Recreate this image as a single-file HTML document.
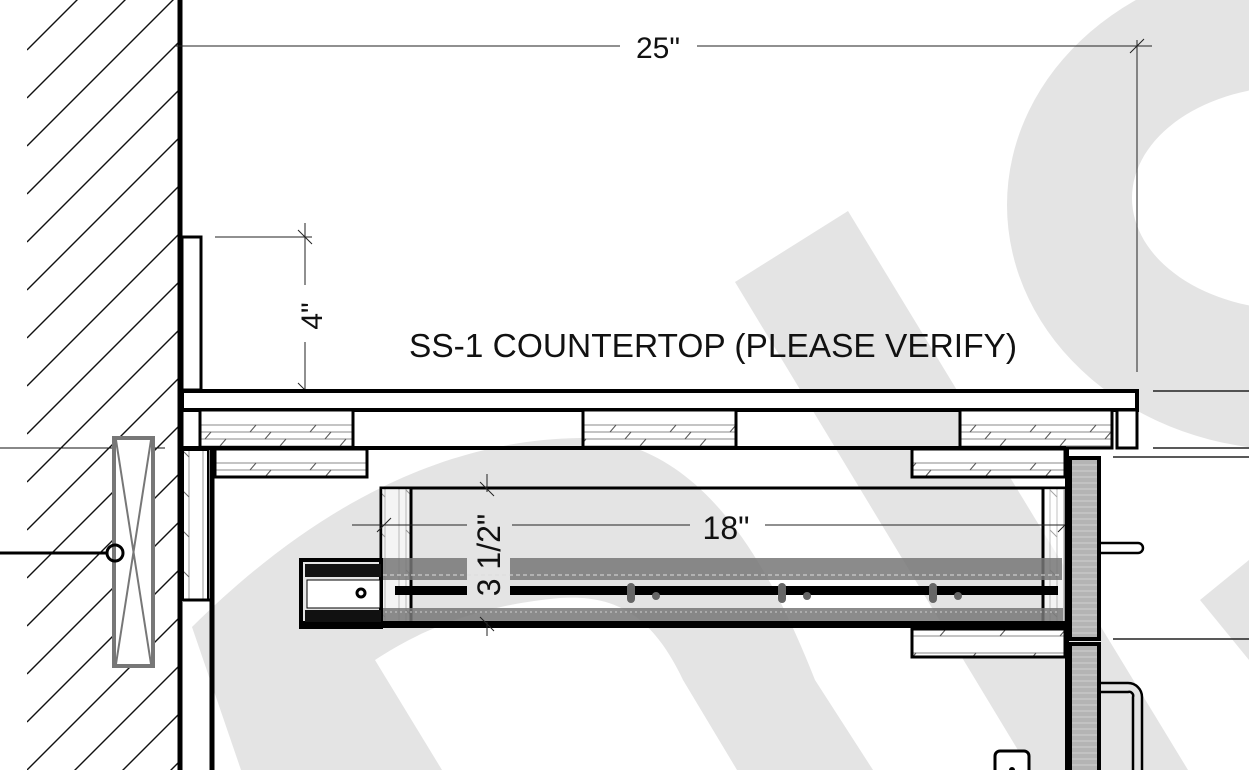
<!DOCTYPE html>
<html><head><meta charset="utf-8"><style>
html,body{margin:0;padding:0;background:#fff;overflow:hidden;width:1249px;height:770px;}
svg{display:block;}
text{font-family:"Liberation Sans",sans-serif;fill:#111;}
</style></head><body>
<svg width="1249" height="770" viewBox="0 0 1249 770" xmlns="http://www.w3.org/2000/svg">
<defs>
<pattern id="wood" width="60" height="38" patternUnits="userSpaceOnUse">
<rect width="60" height="38" fill="#fff"/>
<line x1="0" y1="7" x2="60" y2="7" stroke="#888" stroke-width="1"/>
<line x1="0" y1="14" x2="60" y2="14" stroke="#888" stroke-width="1"/>
<line x1="0" y1="21" x2="60" y2="21" stroke="#888" stroke-width="1"/>
<line x1="0" y1="28" x2="60" y2="28" stroke="#888" stroke-width="1"/>
<line x1="10" y1="14" x2="16" y2="7" stroke="#555" stroke-width="1"/>
<line x1="40" y1="28" x2="46" y2="21" stroke="#555" stroke-width="1"/>
<line x1="25" y1="21" x2="31" y2="14" stroke="#555" stroke-width="1"/>
</pattern>
<pattern id="vwood" width="28" height="40" patternUnits="userSpaceOnUse">
<rect width="28" height="40" fill="#fff"/>
<line x1="7" y1="0" x2="7" y2="40" stroke="#999"/>
<line x1="14" y1="0" x2="14" y2="40" stroke="#999"/>
<line x1="21" y1="0" x2="21" y2="40" stroke="#999"/>
<line x1="14" y1="10" x2="21" y2="17" stroke="#666"/>
</pattern>
<pattern id="grid" width="6" height="6" patternUnits="userSpaceOnUse">
<rect width="6" height="6" fill="#b4b4b4"/>
<line x1="0" y1="3" x2="6" y2="3" stroke="#d0d0d0"/>
</pattern>
<clipPath id="wallclip"><rect x="27" y="0" width="151" height="770"/></clipPath>
</defs>

<!-- watermark shapes -->
<g fill="#e4e4e4">
<path fill-rule="evenodd" d="M1292,-40 m-285,245 a285,245 0 1,0 570,0 a285,245 0 1,0 -570,0 Z M1295,-7 m-163,205 a163,112 0 1,0 326,0 a163,112 0 1,0 -326,0 Z"/>
<polygon points="735,282 848,211 1188,770 1030,770"/>
<path d="M241,770 L192,627 C300,520 430,440 580,438 C690,440 760,540 815,680 L873,770 L737,770 L683,680 C650,610 610,595 560,598 C480,605 420,630 375,660 L442,770 Z"/>
<polygon points="1200,600 1249,560 1249,660"/>
</g>

<!-- wall hatch -->
<g clip-path="url(#wallclip)" stroke="#111" stroke-width="1.4">
<line x1="27" y1="50" x2="227" y2="-150"/>
<line x1="27" y1="98" x2="227" y2="-102"/>
<line x1="27" y1="146" x2="227" y2="-54"/>
<line x1="27" y1="194" x2="227" y2="-6"/>
<line x1="27" y1="242" x2="227" y2="42"/>
<line x1="27" y1="290" x2="227" y2="90"/>
<line x1="27" y1="338" x2="227" y2="138"/>
<line x1="27" y1="386" x2="227" y2="186"/>
<line x1="27" y1="434" x2="227" y2="234"/>
<line x1="27" y1="482" x2="227" y2="282"/>
<line x1="27" y1="530" x2="227" y2="330"/>
<line x1="27" y1="578" x2="227" y2="378"/>
<line x1="27" y1="626" x2="227" y2="426"/>
<line x1="27" y1="674" x2="227" y2="474"/>
<line x1="27" y1="722" x2="227" y2="522"/>
<line x1="27" y1="770" x2="227" y2="570"/>
<line x1="27" y1="818" x2="227" y2="618"/>
<line x1="27" y1="866" x2="227" y2="666"/>
<line x1="27" y1="914" x2="227" y2="714"/>
<line x1="27" y1="962" x2="227" y2="762"/>
</g>

<line x1="180" y1="0" x2="180" y2="770" stroke="#000" stroke-width="5"/>
<line x1="0" y1="448" x2="165" y2="448" stroke="#111" stroke-width="1"/>

<rect x="114" y="438" width="39" height="228" fill="#fff" stroke="#777" stroke-width="4"/>
<line x1="116" y1="440" x2="151" y2="664" stroke="#777" stroke-width="2"/>
<line x1="151" y1="440" x2="116" y2="664" stroke="#777" stroke-width="2"/>
<line x1="0" y1="553" x2="107" y2="553" stroke="#000" stroke-width="3"/>
<circle cx="115" cy="553" r="8" fill="none" stroke="#000" stroke-width="3"/>

<rect x="182" y="237" width="19" height="153" fill="#fff" stroke="#000" stroke-width="3"/>

<g stroke="#222" stroke-width="1">
<line x1="215" y1="237" x2="312" y2="237"/>
<line x1="305" y1="223" x2="305" y2="285"/>
<line x1="305" y1="342" x2="305" y2="405"/>
<line x1="298" y1="230" x2="312" y2="244"/>
<line x1="298" y1="383" x2="312" y2="397"/>
</g>
<text x="322" y="316" font-size="30" text-anchor="middle" transform="rotate(-90 322 316)">4"</text>

<g stroke="#222" stroke-width="1">
<line x1="175" y1="46" x2="620" y2="46"/>
<line x1="697" y1="46" x2="1152" y2="46"/>
<line x1="1137" y1="40" x2="1137" y2="372"/>
<line x1="1130" y1="53" x2="1144" y2="39"/>
</g>
<text x="658" y="58" font-size="30" text-anchor="middle">25"</text>

<text x="409" y="357" font-size="33" textLength="608" lengthAdjust="spacingAndGlyphs">SS-1 COUNTERTOP (PLEASE VERIFY)</text>

<rect x="182" y="391" width="955" height="19" fill="#fff" stroke="#000" stroke-width="4"/>
<rect x="182" y="410" width="883" height="38" fill="none" stroke="#000" stroke-width="3"/>
<rect x="200" y="410" width="153" height="38" fill="url(#wood)" stroke="#000" stroke-width="3"/>
<rect x="583" y="410" width="153" height="38" fill="url(#wood)" stroke="#000" stroke-width="3"/>
<rect x="960" y="410" width="152" height="38" fill="url(#wood)" stroke="#000" stroke-width="3"/>
<rect x="1117" y="410" width="20" height="38" fill="#fff" stroke="#000" stroke-width="3"/>
<line x1="182" y1="448" x2="1066" y2="448" stroke="#000" stroke-width="4"/>

<g stroke="#222" stroke-width="1.5">
<line x1="1153" y1="391" x2="1249" y2="391"/>
<line x1="1153" y1="448" x2="1249" y2="448"/>
<line x1="1113" y1="457" x2="1249" y2="457"/>
<line x1="1113" y1="639" x2="1249" y2="639"/>
</g>

<rect x="183" y="450" width="25" height="150" fill="url(#vwood)" stroke="#000" stroke-width="2"/>
<line x1="183" y1="600" x2="210" y2="600" stroke="#000" stroke-width="3"/>
<line x1="212" y1="450" x2="212" y2="770" stroke="#000" stroke-width="5"/>

<rect x="215" y="449" width="152" height="28" fill="url(#wood)" stroke="#000" stroke-width="3"/>
<rect x="912" y="449" width="153" height="28" fill="url(#wood)" stroke="#000" stroke-width="3"/>
<rect x="912" y="629" width="153" height="28" fill="url(#wood)" stroke="#000" stroke-width="3"/>

<rect x="381" y="488" width="684" height="138" fill="none" stroke="#000" stroke-width="3"/>
<rect x="382" y="489" width="29" height="136" fill="url(#vwood)" fill-opacity="0.6"/>
<line x1="411" y1="488" x2="411" y2="626" stroke="#000" stroke-width="3"/>
<rect x="1043" y="489" width="22" height="136" fill="url(#vwood)" fill-opacity="0.6"/>
<line x1="1043" y1="488" x2="1043" y2="626" stroke="#000" stroke-width="3"/>

<rect x="383" y="558" width="84" height="22" fill="#777" fill-opacity="0.85"/>
<rect x="510" y="558" width="552" height="22" fill="#777" fill-opacity="0.85"/>
<line x1="383" y1="575" x2="1060" y2="575" stroke="#ddd" stroke-width="1" stroke-dasharray="4 3"/>
<rect x="383" y="608" width="680" height="14" fill="#777" fill-opacity="0.85"/>
<line x1="300" y1="612" x2="1060" y2="612" stroke="#ccc" stroke-width="1" stroke-dasharray="2 3"/>
<rect x="395" y="586" width="72" height="9" fill="#000"/>
<rect x="510" y="586" width="548" height="9" fill="#000"/>
<rect x="300" y="621" width="765" height="7" fill="#000"/>

<rect x="301" y="560" width="80" height="67" fill="none" stroke="#000" stroke-width="4"/>
<rect x="305" y="564" width="76" height="13" fill="#111"/>
<rect x="305" y="610" width="76" height="12" fill="#111"/>
<rect x="307" y="580" width="73" height="28" fill="#fff" stroke="#000" stroke-width="1"/>
<circle cx="361" cy="593" r="4" fill="#fff" stroke="#000" stroke-width="3"/>

<g fill="#666">
<rect x="627" y="583" width="8" height="20" rx="4"/><circle cx="656" cy="596" r="4"/>
<rect x="778" y="583" width="8" height="20" rx="4"/><circle cx="807" cy="596" r="4"/>
<rect x="929" y="583" width="8" height="20" rx="4"/><circle cx="958" cy="596" r="4"/>
</g>

<g stroke="#222" stroke-width="1">
<line x1="352" y1="525" x2="467" y2="525"/>
<line x1="512" y1="525" x2="690" y2="525"/>
<line x1="765" y1="525" x2="1068" y2="525"/>
<line x1="377" y1="532" x2="391" y2="518"/>
<line x1="1058" y1="532" x2="1072" y2="518"/>
<line x1="487" y1="474" x2="487" y2="492"/>
<line x1="487" y1="622" x2="487" y2="636"/>
<line x1="480" y1="482" x2="494" y2="496"/>
<line x1="480" y1="617" x2="494" y2="631"/>
</g>
<text x="500" y="555" font-size="32" text-anchor="middle" transform="rotate(-90 500 555)">3 1/2"</text>
<text x="726" y="539" font-size="32" text-anchor="middle">18"</text>

<rect x="1070" y="458" width="29" height="181" fill="url(#grid)" stroke="#000" stroke-width="4"/>
<rect x="1070" y="644" width="29" height="130" fill="url(#grid)" stroke="#000" stroke-width="4"/>
<line x1="1067" y1="448" x2="1067" y2="770" stroke="#000" stroke-width="4"/>
<path d="M1101,543 H1138 A5,5 0 0 1 1138,553 H1101" fill="#fff" stroke="#000" stroke-width="2.5"/>
<path d="M1101,683 H1128 A14,14 0 0 1 1142,697 V770 M1101,692 H1128 A4,4 0 0 1 1133,697 V770" fill="none" stroke="#000" stroke-width="2.5"/>
<rect x="995" y="751" width="34" height="30" rx="5" fill="#fff" stroke="#000" stroke-width="3"/>
<circle cx="1012" cy="770" r="3" fill="#000"/>
</svg>
</body></html>
